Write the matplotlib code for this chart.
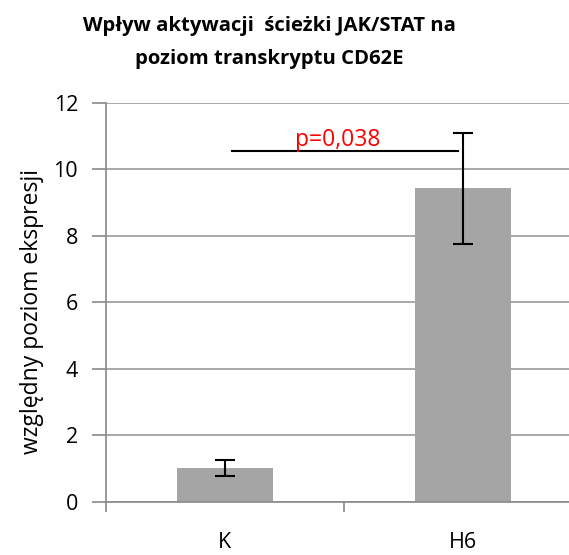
import matplotlib
matplotlib.use('Agg')
import matplotlib.pyplot as plt

plt.rcParams['font.family'] = ['Open Sans', 'DejaVu Sans']

# dane
grupy = ['K', 'H6']
srednie = [1.03, 9.43]
bledy = [0.24, 1.68]
p_tekst = 'p=0,038'
p_poziom = 10.55
y_ticks = [0, 2, 4, 6, 8, 10, 12]

fig = plt.figure(figsize=(5.69, 5.55), dpi=100)
ax = fig.add_axes([0.186, 0.0955, 0.837, 0.719])

pozycje = list(range(len(grupy)))
ax.bar(pozycje, srednie, width=0.4, color='#a5a5a5', zorder=2)
ax.errorbar(pozycje, srednie, yerr=bledy, fmt='none', ecolor='black',
            elinewidth=1.5, capsize=7, capthick=1.5, zorder=3)

# linia istotnosci
ax.plot([0.03, 0.98], [p_poziom, p_poziom], color='black', lw=1.5, zorder=3)
ax.text(0.475, p_poziom - 0.02, p_tekst, color='red', fontsize=16.5,
        ha='center', va='bottom')

ax.set_xlim(-0.5, 1.5)
ax.set_ylim(0, 12)
ax.set_yticks(y_ticks)
ax.yaxis.grid(True, color='#999999', lw=1.2, zorder=0)
ax.set_axisbelow(True)

ax.set_xticks(pozycje)
ax.set_xticklabels(grupy)
ax.set_xticks([-0.5, 0.5, 1.5], minor=True)
ax.tick_params(axis='x', which='major', length=0, pad=21.5, labelsize=15.5)
ax.tick_params(axis='x', which='minor', length=7, color='#898989', width=1.2)
ax.tick_params(axis='y', length=10, pad=10, color='#898989', width=1.2,
               labelsize=15.5)

for s in ['top', 'right']:
    ax.spines[s].set_visible(False)
for s in ['left', 'bottom']:
    ax.spines[s].set_color('#898989')
    ax.spines[s].set_linewidth(1.2)

ax.set_ylabel('względny poziom ekspresji', fontsize=16.5)
ax.yaxis.set_label_coords(-0.13, 0.477)

fig.text(0.473, 0.924, 'Wpływ aktywacji  ścieżki JAK/STAT na\npoziom transkryptu CD62E',
         ha='center', va='center', fontsize=14.6, fontweight='bold', linespacing=1.85)

plt.savefig('out.png', dpi=100)
